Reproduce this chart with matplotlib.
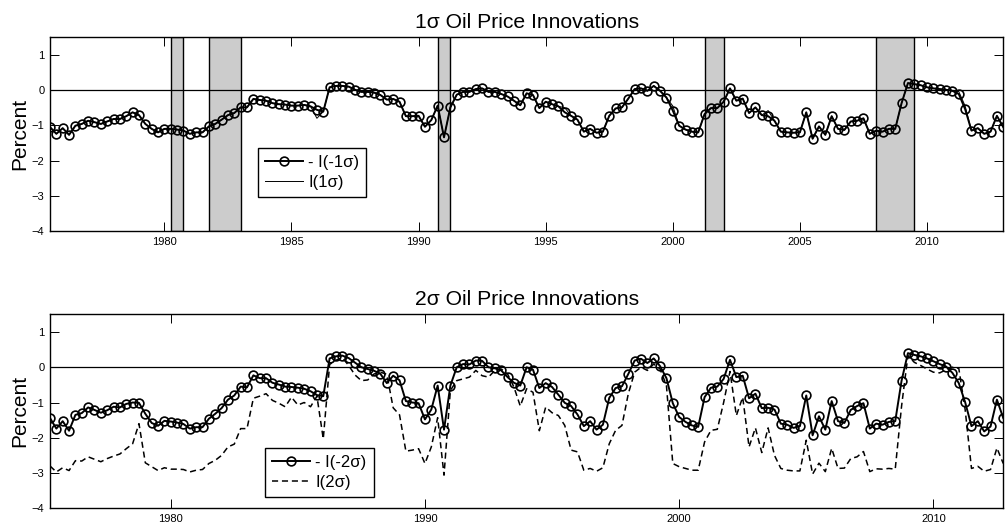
import numpy as np
import matplotlib.pyplot as plt

plt.rcParams['font.family'] = ['Liberation Sans', 'DejaVu Sans']

# quarterly samples, first/last date of each panel
top_start, top_end = 1975.5, 2013.0
bot_start, bot_end = 1975.25, 2012.75

# 1 sigma: -I(-1s) (circles) and I(1s) (thin line)
top_neg = [-1.05, -1.24, -1.08, -1.27, -1.01, -0.96, -0.87, -0.91, -0.96, -0.89,
           -0.82, -0.82, -0.74, -0.63, -0.71, -0.96, -1.10, -1.20, -1.10, -1.10,
           -1.12, -1.15, -1.24, -1.20, -1.20, -1.03, -0.96, -0.84, -0.71, -0.65,
           -0.49, -0.49, -0.25, -0.28, -0.30, -0.37, -0.40, -0.41, -0.44, -0.44,
           -0.42, -0.46, -0.56, -0.61, 0.08, 0.12, 0.12, 0.10, 0.01, -0.05,
           -0.05, -0.07, -0.14, -0.27, -0.25, -0.33, -0.74, -0.74, -0.73, -1.04,
           -0.85, -0.44, -1.34, -0.49, -0.13, -0.05, -0.05, 0.03, 0.05, -0.05,
           -0.05, -0.11, -0.18, -0.30, -0.43, -0.09, -0.14, -0.51, -0.33, -0.40,
           -0.46, -0.63, -0.73, -0.84, -1.18, -1.10, -1.21, -1.18, -0.73, -0.52,
           -0.49, -0.24, 0.03, 0.05, -0.02, 0.12, -0.02, -0.21, -0.58, -1.01,
           -1.12, -1.18, -1.20, -0.68, -0.51, -0.51, -0.33, 0.05, -0.30, -0.24,
           -0.65, -0.49, -0.71, -0.74, -0.87, -1.18, -1.20, -1.21, -1.20, -0.63,
           -1.38, -1.03, -1.27, -0.74, -1.10, -1.13, -0.89, -0.87, -0.80, -1.24,
           -1.15, -1.18, -1.10, -1.10, -0.37, 0.20, 0.17, 0.14, 0.08, 0.05,
           0.03, 0.01, -0.02, -0.11, -0.54, -1.15, -1.08, -1.24, -1.18, -0.73,
           -1.05]
top_pos = [-1.05, -1.24, -1.08, -1.27, -1.01, -0.96, -0.87, -0.91, -0.96, -0.89,
           -0.82, -0.82, -0.74, -0.63, -0.71, -0.96, -1.10, -1.20, -1.10, -1.10,
           -1.12, -1.15, -1.24, -1.20, -1.20, -1.03, -0.96, -0.84, -0.71, -0.65,
           -0.49, -0.49, -0.25, -0.28, -0.30, -0.37, -0.40, -0.41, -0.44, -0.44,
           -0.42, -0.46, -0.80, -0.61, 0.08, 0.12, 0.12, 0.10, 0.01, -0.05,
           -0.05, -0.07, -0.14, -0.27, -0.25, -0.33, -0.74, -0.74, -0.73, -1.04,
           -0.85, -0.44, -1.34, -0.49, -0.13, -0.05, -0.05, 0.03, 0.05, -0.05,
           -0.05, -0.11, -0.18, -0.30, -0.43, -0.09, -0.14, -0.51, -0.33, -0.40,
           -0.46, -0.50, -0.73, -0.84, -1.18, -1.10, -1.21, -1.18, -0.73, -0.52,
           -0.49, -0.24, 0.03, 0.05, -0.02, 0.12, -0.02, -0.21, -0.45, -1.01,
           -1.12, -1.18, -1.20, -0.68, -0.51, -0.51, -0.33, 0.05, -0.30, -0.24,
           -0.65, -0.49, -0.71, -0.58, -0.87, -1.18, -1.20, -1.21, -1.20, -0.63,
           -1.38, -1.03, -1.27, -0.74, -1.10, -1.13, -0.89, -0.87, -0.80, -1.24,
           -1.15, -1.18, -1.10, -1.10, -0.37, 0.20, 0.17, 0.14, 0.08, 0.05,
           0.03, 0.01, -0.02, -0.04, -0.45, -1.15, -1.08, -1.24, -1.18, -0.73,
           -1.05]

# 2 sigma: -I(-2s) (circles) and I(2s) (dashed)
bot_neg = [-1.44, -1.74, -1.53, -1.80, -1.35, -1.30, -1.14, -1.21, -1.29, -1.22,
           -1.12, -1.14, -1.04, -1.00, -1.01, -1.32, -1.58, -1.66, -1.52, -1.54,
           -1.57, -1.61, -1.74, -1.70, -1.70, -1.46, -1.32, -1.16, -0.92, -0.80,
           -0.55, -0.57, -0.23, -0.31, -0.31, -0.44, -0.49, -0.55, -0.56, -0.58,
           -0.61, -0.68, -0.79, -0.82, 0.25, 0.31, 0.33, 0.26, 0.13, 0.00,
           -0.05, -0.10, -0.19, -0.45, -0.24, -0.37, -0.96, -1.00, -1.02, -1.48,
           -1.20, -0.52, -1.77, -0.52, 0.00, 0.09, 0.08, 0.19, 0.18, 0.00,
           -0.03, -0.09, -0.28, -0.44, -0.52, 0.00, -0.07, -0.59, -0.45, -0.56,
           -0.78, -1.01, -1.10, -1.34, -1.67, -1.53, -1.77, -1.63, -0.87, -0.59,
           -0.54, -0.19, 0.19, 0.24, 0.12, 0.25, 0.03, -0.31, -1.02, -1.41,
           -1.55, -1.65, -1.69, -0.85, -0.58, -0.55, -0.33, 0.21, -0.28, -0.24,
           -0.88, -0.75, -1.16, -1.15, -1.20, -1.60, -1.63, -1.72, -1.67, -0.80,
           -1.93, -1.39, -1.77, -0.96, -1.53, -1.58, -1.21, -1.10, -1.02, -1.74,
           -1.60, -1.63, -1.55, -1.53, -0.38, 0.40, 0.35, 0.31, 0.25, 0.17,
           0.09, 0.02, -0.16, -0.45, -0.99, -1.67, -1.53, -1.82, -1.68, -0.92,
           -1.44]
bot_pos = [-2.80, -2.97, -2.85, -2.93, -2.65, -2.66, -2.54, -2.61, -2.68, -2.59,
           -2.52, -2.46, -2.31, -2.17, -1.60, -2.71, -2.82, -2.93, -2.85, -2.89,
           -2.89, -2.90, -2.97, -2.92, -2.90, -2.73, -2.64, -2.50, -2.26, -2.18,
           -1.74, -1.74, -0.88, -0.82, -0.75, -0.94, -1.02, -1.12, -0.85, -1.07,
           -1.00, -1.12, -0.82, -2.03, 0.08, 0.20, 0.27, 0.05, -0.22, -0.38,
           -0.36, -0.19, -0.14, -0.20, -1.15, -1.35, -2.38, -2.35, -2.31, -2.73,
           -2.26, -1.43, -3.06, -0.66, -0.38, -0.33, -0.28, -0.09, -0.24, -0.28,
           -0.09, -0.05, -0.19, -0.56, -1.10, -0.61, -0.71, -1.80, -1.13, -1.29,
           -1.37, -1.65, -2.35, -2.40, -2.92, -2.87, -2.95, -2.85, -2.17, -1.79,
           -1.65, -0.75, -0.14, 0.00, -0.09, 0.09, -0.05, -0.52, -2.73, -2.82,
           -2.87, -2.92, -2.92, -2.12, -1.79, -1.76, -1.00, -0.12, -1.37, -0.85,
           -2.26, -1.72, -2.42, -1.72, -2.50, -2.87, -2.92, -2.94, -2.94, -2.07,
           -3.03, -2.72, -2.96, -2.30, -2.87, -2.86, -2.59, -2.54, -2.39, -2.96,
           -2.88, -2.89, -2.87, -2.89, -1.10, 0.33, 0.14, 0.05, -0.05, -0.14,
           -0.16, -0.07, 0.00, -0.03, -1.20, -2.87, -2.81, -2.95, -2.90, -2.29,
           -2.73]

# NBER recessions (start, end) shaded in the top panel
recessions = [(1980.25, 1980.75), (1981.75, 1983.0), (1990.75, 1991.25),
              (2001.25, 2002.0), (2008.0, 2009.5)]

top_dates = top_start + 0.25 * np.arange(len(top_neg))
bot_dates = bot_start + 0.25 * np.arange(len(bot_neg))

fig = plt.figure(figsize=(10.08, 5.27), dpi=100)
ax1 = fig.add_axes([0.0496, 0.5617, 0.9457, 0.3675])
ax2 = fig.add_axes([0.0496, 0.0355, 0.9457, 0.368])

circ = dict(color='black', lw=1.4, marker='o', ms=6.3, mfc='none', mec='black', mew=1.2)
leg_kw = dict(loc='lower left', borderaxespad=0, fontsize=12, fancybox=False,
              edgecolor='black', framealpha=1, borderpad=0.42, labelspacing=0.32,
              handlelength=2.3, handletextpad=0.3)

# top panel
for a, b in recessions:
    ax1.axvspan(a, b, facecolor='#cccccc', edgecolor='black', lw=1.0, zorder=0)
ax1.axhline(0, color='black', lw=0.9, zorder=1)
ax1.plot(top_dates, top_neg, label='- I(-1\u03c3)', zorder=3, **circ)
ax1.plot(top_dates, top_pos, color='black', lw=0.7, label='I(1\u03c3)', zorder=2)
ax1.set_xlim(top_start, top_end)
ax1.set_xticks([1980, 1985, 1990, 1995, 2000, 2005, 2010])
ax1.set_title('1\u03c3 Oil Price Innovations', fontsize=15.2, pad=7)
leg1 = ax1.legend(bbox_to_anchor=(0.218, 0.176), **leg_kw)

# bottom panel
ax2.axhline(0, color='black', lw=0.9, zorder=1)
ax2.plot(bot_dates, bot_neg, label='- I(-2\u03c3)', zorder=3, **circ)
ax2.plot(bot_dates, bot_pos, color='black', lw=1.1, ls='--', dashes=(4, 2.5),
         label='I(2\u03c3)', zorder=2)
ax2.set_xlim(bot_start, bot_end)
ax2.set_xticks([1980, 1990, 2000, 2010])
ax2.set_title('2\u03c3 Oil Price Innovations', fontsize=15.2, pad=7)
leg2 = ax2.legend(bbox_to_anchor=(0.2255, 0.057), **leg_kw)

for ax, leg in [(ax1, leg1), (ax2, leg2)]:
    ax.set_ylim(-4, 1.5)
    ax.set_yticks([-4, -3, -2, -1, 0, 1])
    ax.set_ylabel('Percent', fontsize=15, labelpad=2)
    ax.tick_params(direction='in', length=6.8, width=0.7, top=True, right=True,
                   labelsize=8, pad=4, colors='black')
    for s in ax.spines.values():
        s.set_linewidth(1.0)
    leg.get_frame().set_linewidth(1.0)

fig.savefig('out.png', dpi=100)
